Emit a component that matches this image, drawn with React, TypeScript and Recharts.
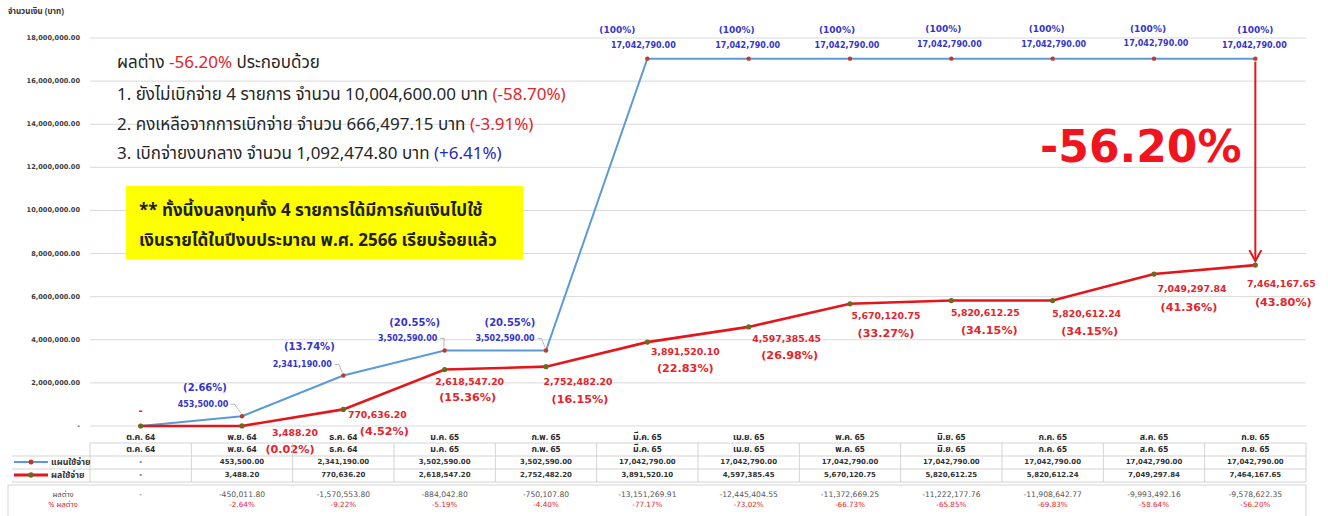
import React from 'react';
import { LineChart, Line, XAxis, YAxis, CartesianGrid, ReferenceLine } from 'recharts';

// ---------------- data ----------------
const months = ['ต.ค. 64', 'พ.ย. 64', 'ธ.ค. 64', 'ม.ค. 65', 'ก.พ. 65', 'มี.ค. 65', 'เม.ย. 65', 'พ.ค. 65', 'มิ.ย. 65', 'ก.ค. 65', 'ส.ค. 65', 'ก.ย. 65'];
const planValues = [0, 453500.0, 2341190.0, 3502590.0, 3502590.0, 17042790.0, 17042790.0, 17042790.0, 17042790.0, 17042790.0, 17042790.0, 17042790.0];
const actualValues = [0, 3488.2, 770636.2, 2618547.2, 2752482.2, 3891520.1, 4597385.45, 5670120.75, 5820612.25, 5820612.24, 7049297.84, 7464167.65];
const planPct = [null, 2.66, 13.74, 20.55, 20.55, 100, 100, 100, 100, 100, 100, 100];
const actualPct = [null, 0.02, 4.52, 15.36, 16.15, 22.83, 26.98, 33.27, 34.15, 34.15, 41.36, 43.8];
const diffValues = [null, -450011.8, -1570553.8, -884042.8, -750107.8, -13151269.91, -12445404.55, -11372669.25, -11222177.76, -11908642.77, -9993492.16, -9578622.35];
const diffPct = [null, -2.64, -9.22, -5.19, -4.4, -77.17, -73.02, -66.73, -65.85, -69.83, -58.64, -56.2];
const yTicks = [0, 2000000, 4000000, 6000000, 8000000, 10000000, 12000000, 14000000, 16000000, 18000000];

const data = months.map((m, i) => ({ month: m, plan: planValues[i], actual: actualValues[i] }));

// ---------------- styling ----------------
const W = 1328;
const H = 516;
const M = { top: 38, right: 22, bottom: 0, left: 0 };
const Y_W = 90;
const X_H = 90;
const BW = (W - Y_W - M.right) / months.length;
const NUM = "Tahoma, 'DejaVu Sans', sans-serif";
const THAI = "Tahoma, 'Noto Sans Thai', 'Noto Sans Thai UI', 'Leelawadee UI', Loma, Garuda, 'Noto Sans', 'DejaVu Sans', sans-serif";
const PLAN_C = '#5b9bd5';
const ACT_C = '#e3171b';
const BLUE_T = '#3535c8';
const RED_T = '#e3242b';
const GRID = '#d9d9d9';
const TBL = '#c8c8c8';

// label offsets relative to each point: [dxValue, dyValue, dxPct, dyPct]
const planLabelPos = [null, [-39, -12, -37, -29], [-41, -11, -34, -29], [-37, -12, -30, -28], [-41, -12, -36, -28], [-4, -13, -30, -29], [-1, -13, -12, -29], [-3, -13, -13, -29], [-2, -14, -8, -30], [1, -14, -6, -30], [2, -15, -6, -30], [-1, -13, 0, -29]];
const actualLabelPos = [[0, -16, 0, 0], [53, 7, 48, 24], [34, 5, 41, 22], [25, 12, 23, 28], [32, 15, 34, 33], [38, 9, 38, 26], [38, 12, 41, 29], [36, 12, 36, 30], [34, 12, 38, 30], [34, 13, 37, 31], [38, 14, 35, 33], [26, 18, 28, 37]];

const fmt2 = (v: number) => v.toLocaleString('en-US', { minimumFractionDigits: 2, maximumFractionDigits: 2 });
const fmtPct = (p: number) => (p === 100 ? '(100%)' : `(${p.toFixed(2)}%)`);

const idxFrom = (p: any) => {
  if (typeof p.index === 'number') return p.index;
  return Math.round((p.cx - Y_W - BW / 2) / BW);
};

function PlanDot(p: any) {
  const i = idxFrom(p);
  const { cx, cy } = p;
  const o = planLabelPos[i];
  const val = planValues[i];
  const pct = planPct[i];
  const hasLeader = i >= 1 && i <= 4;
  const valTxt = fmt2(val);
  const halfW = valTxt.length * 2.55;
  return (
    <g>
      {o && hasLeader && (
        <polyline
          points={`${cx + o[0] + halfW + 2},${cy + o[1]} ${cx + o[0] + halfW + 6},${cy + o[1]} ${cx - 1},${cy - 3}`}
          fill="none"
          stroke="#a6a6a6"
          strokeWidth={0.8}
        />
      )}
      <circle cx={cx} cy={cy} r={2.2} fill="#c0392b" />
      {o && pct !== null && (
        <g fontFamily={NUM} fontWeight="bold" fill={BLUE_T} textAnchor="middle">
          <text x={cx + o[0]} y={cy + o[1]} fontSize={8} dominantBaseline="central">{valTxt}</text>
          <text x={cx + o[2]} y={cy + o[3]} fontSize={pct === 100 ? 9 : 10} dominantBaseline="central">{fmtPct(pct)}</text>
        </g>
      )}
    </g>
  );
}

function ActualDot(p: any) {
  const i = idxFrom(p);
  const { cx, cy } = p;
  const o = actualLabelPos[i];
  const val = actualValues[i];
  const pct = actualPct[i];
  return (
    <g>
      <circle cx={cx} cy={cy} r={2.6} fill="#6b6a1e" />
      {o && (
        <g fontFamily={NUM} fontWeight="bold" fill={RED_T} textAnchor="middle">
          <text x={cx + o[0]} y={cy + o[1]} fontSize={pct === null ? 10 : 9.3} dominantBaseline="central">{val === 0 ? '-' : fmt2(val)}</text>
          {pct !== null && (
            <text x={cx + o[2]} y={cy + o[3]} fontSize={11.2} dominantBaseline="central">{fmtPct(pct)}</text>
          )}
        </g>
      )}
    </g>
  );
}

function YTick(p: any) {
  const v = p.payload.value;
  return (
    <text x={p.x} y={p.y} textAnchor="end" dominantBaseline="central" fontSize={6.6} fontWeight="bold" fill="#3a3a3a" fontFamily={NUM}>
      {v === 0 ? '-' : fmt2(v)}
    </text>
  );
}

const ROW = { m1: 437, m2: 449, plan: 462, act: 475, diff: 494, dpct: 504 };
const LINES = [443, 456, 469, 482];

function XTick(p: any) {
  const { x, payload } = p;
  const i = months.indexOf(payload.value);
  const L = x - BW / 2;
  const R = x + BW / 2;
  const pv = planValues[i];
  const av = actualValues[i];
  const dv = diffValues[i];
  const dp = diffPct[i];
  return (
    <g>
      <text x={x} y={ROW.m1} textAnchor="middle" dominantBaseline="central" fontSize={8.8} fontWeight="bold" fill="#2a2a2a" fontFamily={THAI}>{payload.value}</text>
      <text x={x} y={ROW.m2} textAnchor="middle" dominantBaseline="central" fontSize={8.8} fontWeight="bold" fill="#2a2a2a" fontFamily={THAI}>{payload.value}</text>
      {LINES.map((ly) => (
        <line key={ly} x1={L} x2={R} y1={ly} y2={ly} stroke={TBL} strokeWidth={0.8} />
      ))}
      <line x1={R} x2={R} y1={LINES[0]} y2={LINES[3]} stroke={TBL} strokeWidth={0.8} />
      {i === 0 && <line x1={L} x2={L} y1={LINES[0]} y2={LINES[3]} stroke={TBL} strokeWidth={0.8} />}
      <text x={x} y={ROW.plan} textAnchor="middle" dominantBaseline="central" fontSize={7} fontWeight="bold" fill="#333" fontFamily={NUM}>{pv === 0 ? '-' : fmt2(pv)}</text>
      <text x={x} y={ROW.act} textAnchor="middle" dominantBaseline="central" fontSize={7} fontWeight="bold" fill="#333" fontFamily={NUM}>{av === 0 ? '-' : fmt2(av)}</text>
      <text x={x} y={ROW.diff} textAnchor="middle" dominantBaseline="central" fontSize={7.6} fill="#555" fontFamily={NUM}>{dv === null ? '-' : fmt2(dv)}</text>
      <text x={x} y={ROW.dpct} textAnchor="middle" dominantBaseline="central" fontSize={7.2} fill={RED_T} fontFamily={NUM}>{dp === null ? '' : `${dp.toFixed(2)}%`}</text>
    </g>
  );
}

function ArrowShape(p: any) {
  const { x1, y1, x2, y2 } = p;
  const tip = y2 - 4;
  return (
    <g>
      <line x1={x1} y1={y1 + 3} x2={x2} y2={tip - 1} stroke={ACT_C} strokeWidth={2} />
      <polyline points={`${x2 - 6},${tip - 11} ${x2},${tip} ${x2 + 6},${tip - 11}`} fill="none" stroke={ACT_C} strokeWidth={2} />
    </g>
  );
}

const lineStyle = (top: number, left: number, size: number): React.CSSProperties => ({
  position: 'absolute',
  left,
  top: top - size * 0.75,
  height: size * 1.5,
  lineHeight: `${size * 1.5}px`,
  fontSize: size,
  whiteSpace: 'nowrap',
  color: '#262626',
  fontFamily: THAI,
});

export default function App() {
  return (
    <div style={{ position: 'absolute', left: 0, top: 0, width: W, height: H, background: '#fff', overflow: 'hidden', fontFamily: THAI }}>
      <LineChart width={W} height={H} data={data} margin={M}>
        <CartesianGrid horizontal vertical={false} stroke={GRID} strokeWidth={1} />
        <YAxis
          domain={[0, 18000000]}
          ticks={yTicks}
          width={Y_W}
          axisLine={false}
          tickLine={false}
          tickSize={0}
          tickMargin={10}
          tick={<YTick />}
          interval={0}
        />
        <XAxis
          dataKey="month"
          height={X_H}
          axisLine={false}
          tickLine={false}
          tickSize={0}
          tickMargin={0}
          interval={0}
          padding={{ left: BW / 2, right: BW / 2 }}
          tick={<XTick />}
        />
        <Line type="linear" dataKey="plan" stroke={PLAN_C} strokeWidth={2} dot={(p: any) => <PlanDot key={`pd${p.index}`} {...p} />} activeDot={false} isAnimationActive={false} />
        <Line type="linear" dataKey="actual" stroke={ACT_C} strokeWidth={2.6} dot={(p: any) => <ActualDot key={`ad${p.index}`} {...p} />} activeDot={false} isAnimationActive={false} />
        <ReferenceLine
          segment={[
            { x: months[11], y: planValues[11] },
            { x: months[11], y: actualValues[11] },
          ]}
          stroke={ACT_C}
          shape={ArrowShape}
        />
      </LineChart>

      {/* static table headers / legend */}
      <svg width={W} height={H} style={{ position: 'absolute', left: 0, top: 0, pointerEvents: 'none' }}>
        <text x={8} y={12} fontSize={8} fontWeight="bold" fill="#333" fontFamily={THAI} dominantBaseline="central">จำนวนเงิน (บาท)</text>
        {[456, 469, 482].map((ly) => (
          <line key={ly} x1={12} x2={90} y1={ly} y2={ly} stroke={TBL} strokeWidth={0.8} />
        ))}
        <line x1={14} x2={48} y1={ROW.plan} y2={ROW.plan} stroke={PLAN_C} strokeWidth={2} />
        <circle cx={31} cy={ROW.plan} r={2.5} fill="#c0392b" />
        <text x={51} y={ROW.plan} fontSize={8.8} fontWeight="bold" fill="#333" fontFamily={THAI} dominantBaseline="central">แผนใช้จ่าย</text>
        <line x1={14} x2={48} y1={ROW.act} y2={ROW.act} stroke={ACT_C} strokeWidth={3} />
        <circle cx={31} cy={ROW.act} r={2.7} fill="#6b6a1e" />
        <text x={51} y={ROW.act} fontSize={8.8} fontWeight="bold" fill="#333" fontFamily={THAI} dominantBaseline="central">ผลใช้จ่าย</text>
        <rect x={8} y={485} width={1298} height={40} fill="none" stroke={TBL} strokeWidth={0.8} />
        <text x={63} y={ROW.diff} fontSize={7.6} fill="#555" fontFamily={THAI} textAnchor="middle" dominantBaseline="central">ผลต่าง</text>
        <text x={63} y={ROW.dpct} fontSize={7.6} fill={RED_T} fontFamily={THAI} textAnchor="middle" dominantBaseline="central">% ผลต่าง</text>
      </svg>

      {/* annotations */}
      <div style={lineStyle(64, 117, 17)}>
        ผลต่าง <span style={{ color: RED_T }}>-56.20%</span> ประกอบด้วย
      </div>
      <div style={lineStyle(96, 117, 17)}>
        1. ยังไม่เบิกจ่าย 4 รายการ จำนวน 10,004,600.00 บาท <span style={{ color: RED_T }}>(-58.70%)</span>
      </div>
      <div style={lineStyle(126, 117, 17)}>
        2. คงเหลือจากการเบิกจ่าย จำนวน 666,497.15 บาท <span style={{ color: RED_T }}>(-3.91%)</span>
      </div>
      <div style={lineStyle(155, 117, 17)}>
        3. เบิกจ่ายงบกลาง จำนวน 1,092,474.80 บาท <span style={{ color: '#2a2ab8' }}>(+6.41%)</span>
      </div>
      <div style={{ position: 'absolute', left: 126, top: 186, width: 397, height: 73, background: '#ffff00' }} />
      <div style={{ ...lineStyle(212, 139, 17), fontWeight: 'bold', color: '#1f1f1f' }}>** ทั้งนี้งบลงทุนทั้ง 4 รายการได้มีการกันเงินไปใช้</div>
      <div style={{ ...lineStyle(242, 139, 17), fontWeight: 'bold', color: '#1f1f1f' }}>เงินรายได้ในปีงบประมาณ พ.ศ. 2566 เรียบร้อยแล้ว</div>
      <div style={{ position: 'absolute', left: 1040, top: 147 - 30, height: 60, lineHeight: '60px', fontSize: 44, fontWeight: 'bold', color: '#f0141e', fontFamily: "'DejaVu Sans', sans-serif", whiteSpace: 'nowrap' }}>
        -56.20%
      </div>
    </div>
  );
}
